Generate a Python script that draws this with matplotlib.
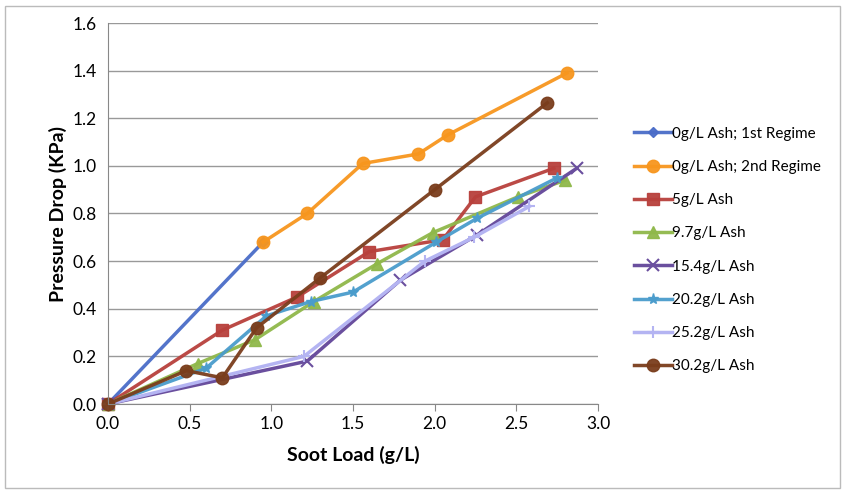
import matplotlib.pyplot as plt
import numpy as np

plt.rcParams['font.family'] = ['Lato', 'DejaVu Sans']

# soot load (g/L) and pressure drop (kPa) for each ash level
x_r1 = [0.0, 0.95]
y_r1 = [0.0, 0.68]
x_r2 = [0.95, 1.22, 1.56, 1.90, 2.08, 2.81]
y_r2 = [0.68, 0.80, 1.01, 1.05, 1.13, 1.39]
x_5 = [0.0, 0.70, 1.16, 1.60, 2.05, 2.25, 2.73]
y_5 = [0.0, 0.31, 0.45, 0.64, 0.69, 0.87, 0.99]
x_97 = [0.0, 0.55, 0.90, 1.26, 1.65, 1.99, 2.51, 2.80]
y_97 = [0.0, 0.17, 0.27, 0.43, 0.59, 0.72, 0.87, 0.94]
x_154 = [0.0, 1.22, 1.79, 2.26, 2.87]
y_154 = [0.0, 0.18, 0.52, 0.71, 0.99]
x_202 = [0.0, 0.60, 0.97, 1.24, 1.50, 2.01, 2.26, 2.75]
y_202 = [0.0, 0.15, 0.37, 0.43, 0.47, 0.68, 0.78, 0.95]
x_252 = [0.0, 1.20, 1.94, 2.24, 2.58]
y_252 = [0.0, 0.20, 0.60, 0.70, 0.83]
x_302 = [0.0, 0.48, 0.70, 0.91, 1.30, 2.00, 2.69]
y_302 = [0.0, 0.14, 0.11, 0.32, 0.53, 0.90, 1.265]

series = [
    (x_r1, y_r1, '0g/L Ash; 1st Regime', '#4a6cc8', 'D', 5),
    (x_r2, y_r2, '0g/L Ash; 2nd Regime', '#f7961e', 'o', 9),
    (x_5, y_5, '5g/L Ash', '#b8403c', 's', 9),
    (x_97, y_97, '9.7g/L Ash', '#8fb84a', '^', 8),
    (x_154, y_154, '15.4g/L Ash', '#6a4f9e', 'x', 8),
    (x_202, y_202, '20.2g/L Ash', '#4a9ccc', '*', 8),
    (x_252, y_252, '25.2g/L Ash', '#b4b4f2', '+', 8),
    (x_302, y_302, '30.2g/L Ash', '#7a3d1c', 'o', 9),
]

fig = plt.figure(figsize=(8.45, 4.94), dpi=100)
ax = fig.add_axes([108/845, 90/494, 490/845, 381/494])

for x, y, lab, col, mk, ms in series:
    if mk in ('x', '+'):
        ax.plot(x, y, '-', color=col, lw=2.5, marker=mk, ms=ms, mew=1.5,
                label=lab, clip_on=False)
    else:
        ax.plot(x, y, '-', color=col, lw=2.5, marker=mk, ms=ms,
                mfc=col, mec=col, alpha=0.95, label=lab, clip_on=False)

ax.set_xlim(0, 3.0)
ax.set_ylim(0, 1.6)
ax.set_xticks(np.arange(0, 3.01, 0.5))
ax.set_yticks(np.arange(0, 1.61, 0.2))
ax.xaxis.set_major_formatter(plt.FormatStrFormatter('%.1f'))
ax.yaxis.set_major_formatter(plt.FormatStrFormatter('%.1f'))
ax.tick_params(labelsize=12.5, color='#888888', length=5)
ax.tick_params(axis='y', length=0, pad=8)
ax.grid(axis='y', color='#999999', lw=1)
ax.set_axisbelow(True)
for s in ['top', 'right']:
    ax.spines[s].set_visible(False)
for s in ['left', 'bottom']:
    ax.spines[s].set_color('#888888')

ax.set_xlabel('Soot Load (g/L)', fontsize=14, fontweight='bold', labelpad=10)
ax.set_ylabel('Pressure Drop (KPa)', fontsize=14, fontweight='bold')

ax.legend(loc='center left', bbox_to_anchor=(1.045, 0.404), frameon=False,
          fontsize=11, handlelength=2.5, labelspacing=1.26, handletextpad=0.0)

# outer chart border
fig.patches.append(plt.Rectangle((0.006, 0.012), 0.988, 0.976,
                                 transform=fig.transFigure, fill=False,
                                 edgecolor='#bbbbbb', lw=1))

plt.savefig('out.png', dpi=100)
